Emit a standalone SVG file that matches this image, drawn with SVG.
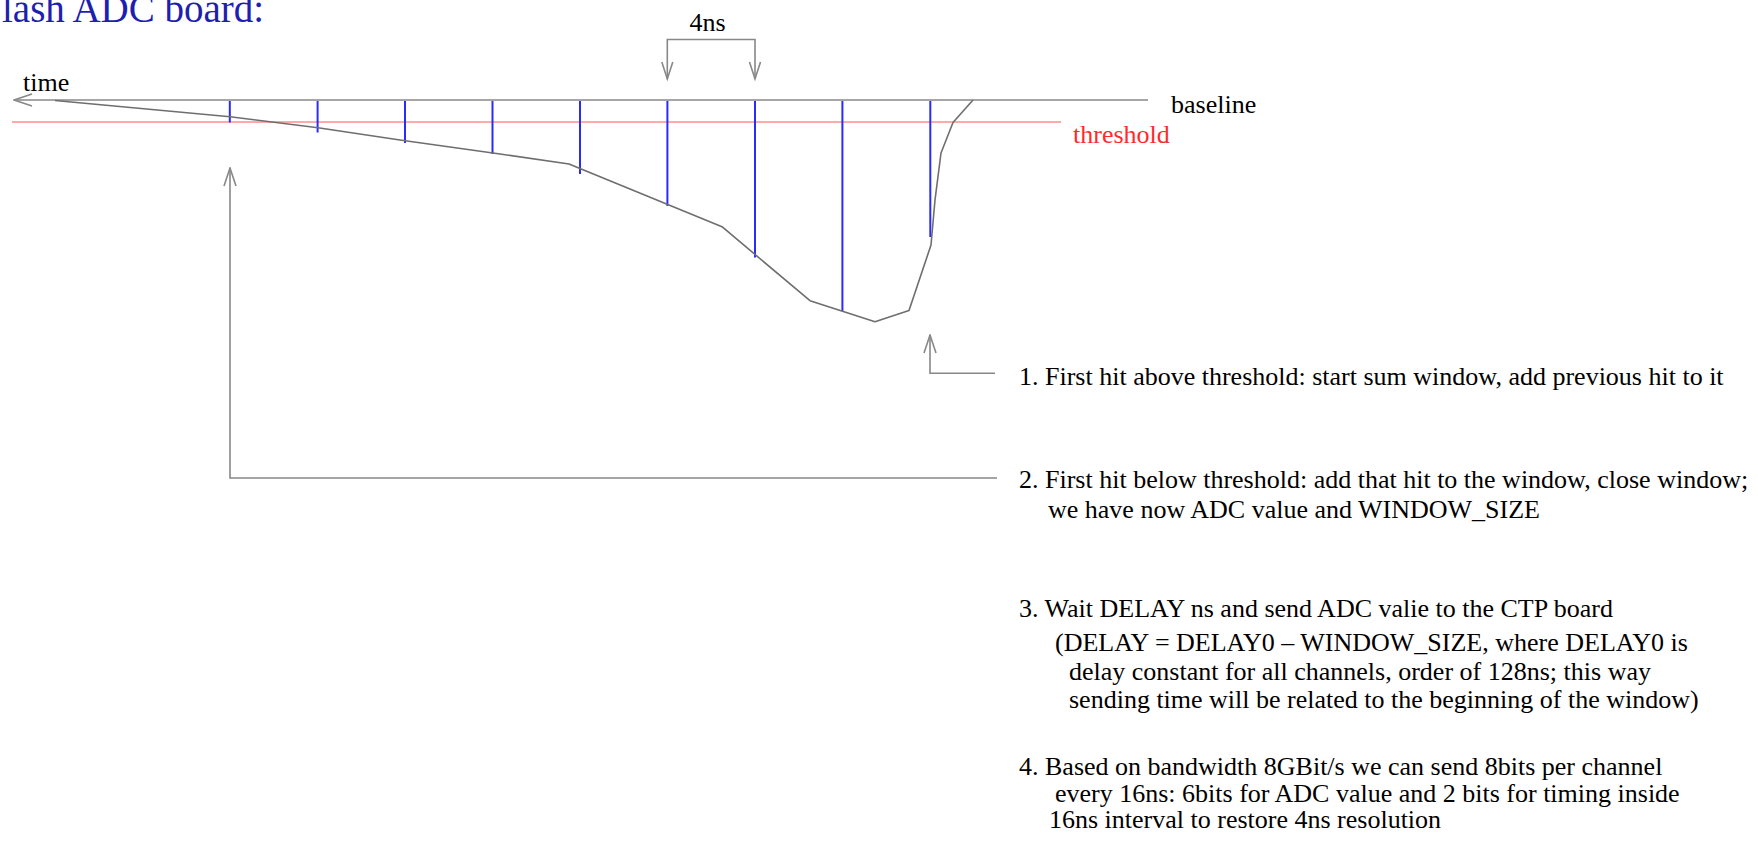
<svg xmlns="http://www.w3.org/2000/svg" width="1758" height="845" viewBox="0 0 1758 845">
<style>
  text { font-family: "Liberation Serif", "Times New Roman", serif; font-size: 26px; fill: #000; }
  .title { font-size: 39px; fill: #1e1eb0; }
  .red { fill: #ff2a2a; }
  .gray { stroke: #888; stroke-width: 1.6; fill: none; }
  .sig { stroke: #6e6e6e; stroke-width: 1.6; fill: none; stroke-linejoin: round; }
  .blue { stroke: #2a2aff; stroke-width: 2; }
  .thr { stroke: #ff8c8c; stroke-width: 1.5; }
</style>
<defs>
  <marker id="stick" viewBox="0 0 20 14" refX="19" refY="7" markerWidth="20" markerHeight="14" markerUnits="userSpaceOnUse" orient="auto">
    <path d="M1,1 L19,7 L1,13" fill="none" stroke="#888" stroke-width="1.6"/>
  </marker>
</defs>
<rect width="1758" height="845" fill="#fff"/>

<g id="title"><text class="title" x="2" y="22">lash ADC board:</text></g>

<g id="axes">
  <line class="gray" x1="1148" y1="100" x2="14" y2="100" marker-end="url(#stick)"/>
  <line class="thr" x1="12" y1="122" x2="1061" y2="122"/>
  <text x="23" y="91">time</text>
  <text x="1171" y="113">baseline</text>
  <text class="red" x="1073" y="143">threshold</text>
</g>

<g id="samples">
  <line class="blue" x1="229.8" y1="101" x2="229.8" y2="122.5"/>
  <line class="blue" x1="317.6" y1="101" x2="317.6" y2="132.5"/>
  <line class="blue" x1="405" y1="101" x2="405" y2="143"/>
  <line class="blue" x1="492.5" y1="101" x2="492.5" y2="154"/>
  <line class="blue" x1="580" y1="101" x2="580" y2="174"/>
  <line class="blue" x1="667.4" y1="101" x2="667.4" y2="206"/>
  <line class="blue" x1="755" y1="101" x2="755" y2="257.5"/>
  <line class="blue" x1="842.4" y1="101" x2="842.4" y2="311"/>
  <line class="blue" x1="930.3" y1="101" x2="930.3" y2="237"/>
</g>

<g id="signal">
  <polyline class="sig" points="55,100.5 230,116.7 318,127.7 400,140 500,154 569,164 722,226.7 810,300.7 875,321.7 909,310.5 931,245 935,200 941,153 953,122.5 973,100"/>
</g>

<g id="interval">
  <polyline class="gray" points="667.3,79 667.3,39.5 755,39.5 755,79"/>
  <path class="gray" d="M661.8,62 L667.3,79 L672.8,62 M749.5,62 L755,79 L760.5,62"/>
  <text x="707.5" y="31" text-anchor="middle">4ns</text>
</g>

<g id="connectors">
  <polyline class="gray" points="995,373.3 930,373.3 930,335" marker-end="url(#stick)"/>
  <polyline class="gray" points="997,478 230,478 230,168" marker-end="url(#stick)"/>
</g>

<g id="note1"><text x="1019" y="385">1. First hit above threshold: start sum window, add previous hit to it</text></g>
<g id="note2">
  <text x="1019" y="488">2. First hit below threshold: add that hit to the window, close window;</text>
  <text x="1048" y="518">we have now ADC value and WINDOW_SIZE</text>
</g>
<g id="note3">
  <text x="1019" y="617">3. Wait DELAY ns and send ADC valie to the CTP board</text>
  <text x="1055" y="651">(DELAY = DELAY0 – WINDOW_SIZE, where DELAY0 is</text>
  <text x="1069" y="680">delay constant for all channels, order of 128ns; this way</text>
  <text x="1069" y="708">sending time will be related to the beginning of the window)</text>
</g>
<g id="note4">
  <text x="1019" y="775">4. Based on bandwidth 8GBit/s we can send 8bits per channel</text>
  <text x="1055" y="802">every 16ns: 6bits for ADC value and 2 bits for timing inside</text>
  <text x="1049" y="828">16ns interval to restore 4ns resolution</text>
</g>
</svg>
